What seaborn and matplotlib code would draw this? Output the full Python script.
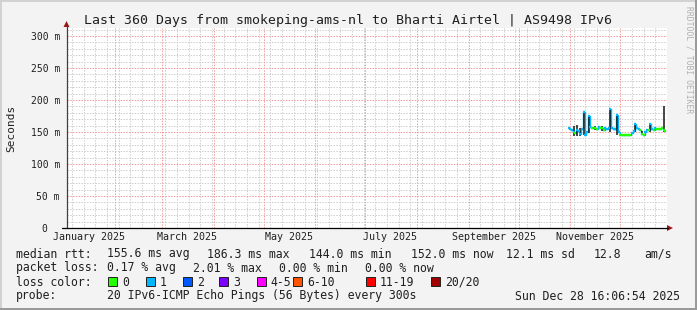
import numpy as np
import pandas as pd
import matplotlib
matplotlib.use("Agg")
import matplotlib.pyplot as plt
import matplotlib.dates as mdates
from matplotlib.patches import Rectangle, Polygon
from matplotlib.lines import Line2D
from matplotlib.ticker import FixedLocator, FixedFormatter
import seaborn as sns

# ---------------- data ----------------
dates = pd.date_range("2025-10-31", periods=59, freq="D")
median_ms = [156, 155, 153, 150, 148, 153, 152, 147, 155, 181,
             146, 150, 175, 158, 157, 156, 157, 155, 158, 156,
             157, 153, 156, 155, 156, 186, 156, 154, 155, 177,
             150, 145, 145, 145, 145, 145, 146, 146, 148, 152,
             162, 156, 154, 153, 147, 146, 150, 153, 153, 162,
             155, 153, 156, 155, 155, 154, 156, 153, 152]
loss_class = [1, 1, 1, 1, 0, 1, 1, 1, 1, 1,
              1, 1, 1, 1, 0, 1, 0, 0, 1, 0,
              0, 0, 1, 1, 1, 1, 1, 1, 1, 1,
              1, 0, 0, 0, 0, 0, 0, 0, 1, 1,
              1, 1, 1, 0, 0, 0, 1, 1, 0, 1,
              1, 0, 1, 0, 0, 0, 0, 0, 0]
smoke_idx = [3, 5, 7, 9, 12, 16, 20, 25, 29, 40, 44, 49, 57]
smoke_lo = [144, 143, 143, 145, 148, 153, 152, 150, 146, 150, 146, 150, 150]
smoke_hi = [160, 161, 156, 182, 176, 160, 160, 187, 178, 163, 152, 163, 190]

y_ticks = [0, 50, 100, 150, 200, 250, 300]
y_tick_labels = ["0  ", "50 m", "100 m", "150 m", "200 m", "250 m", "300 m"]
x_tick_dates = ["2025-01-16", "2025-03-16", "2025-05-16", "2025-07-16", "2025-09-16", "2025-11-16"]
x_tick_labels = ["January 2025", "March 2025", "May 2025", "July 2025", "September 2025", "November 2025"]

loss_labels = ["0", "1", "2", "3", "4-5", "6-10", "11-19", "20/20"]
loss_colors = ["#26ff00", "#00b8ff", "#0059ff", "#7e00ff", "#ff00ff", "#ff5500", "#ff0000", "#a10000"]

rtt_stats = ["155.6 ms avg", "186.3 ms max", "144.0 ms min", "152.0 ms now", "12.1 ms sd", "12.8", "am/s"]
loss_stats = ["0.17 % avg", "2.01 % max", "0.00 % min", "0.00 % now"]

title = "Last 360 Days from smokeping-ams-nl to Bharti Airtel | AS9498 IPv6"
probe_text = "20 IPv6-ICMP Echo Pings (56 Bytes) every 300s"
stamp_text = "Sun Dec 28 16:06:54 2025"

# ---------------- style ----------------
sns.set_style("white")
plt.rcParams["font.family"] = ["DejaVu Sans Mono", "DejaVu Sans"]
MONO = "DejaVu Sans Mono"
TXT = "#202020"

W, H = 697, 310
fig = plt.figure(figsize=(W / 100, H / 100), dpi=100)
fig.patch.set_facecolor("#f3f3f3")


def fx(x):
    return x / W


def fy(y):
    return 1 - y / H


# frame
fig.add_artist(Rectangle((0, fy(2)), 1, 2 / H, transform=fig.transFigure, color="#d2d2d2", lw=0))
fig.add_artist(Rectangle((0, 0), 2 / W, 1, transform=fig.transFigure, color="#d2d2d2", lw=0))
fig.add_artist(Rectangle((0, 0), 1, 2 / H, transform=fig.transFigure, color="#9a9a9a", lw=0))
fig.add_artist(Rectangle((fx(695), 0), 2 / W, 1, transform=fig.transFigure, color="#9a9a9a", lw=0))

ax = fig.add_axes([fx(66.5), fy(228), 600 / W, 200 / H])
ax.set_facecolor("white")
x0 = pd.Timestamp("2025-01-02 16:06:54")
x1 = pd.Timestamp("2025-12-28 16:06:54")
ax.set_xlim(x0, x1)
ax.set_ylim(0, 312.5)
for s in ax.spines.values():
    s.set_visible(False)

# grid (manual)
dot = (0, (1.4, 1.4))
for v in range(10, 320, 10):
    if v % 50:
        ax.axhline(v, color="#cdcdcd", lw=0.72, ls=dot, zorder=0)
for d in pd.date_range("2024-12-30", "2025-12-31", freq="W-MON"):
    if d.day != 1:
        ax.axvline(d, color="#cdcdcd", lw=0.72, ls=dot, zorder=0)
for v in range(50, 320, 50):
    ax.axhline(v, color="#f29a9a", lw=0.72, ls=dot, zorder=1)
for d in pd.date_range("2025-02-01", "2025-12-01", freq="MS"):
    ax.axvline(d, color="#f29a9a", lw=0.72, ls=dot, zorder=1)

# data
df = pd.DataFrame({"date": dates, "median": median_ms})
sns.lineplot(data=df, x="date", y="median", drawstyle="steps-mid",
             color=loss_colors[1], lw=1.0, ax=ax, zorder=3)
sd = [dates[i] for i in smoke_idx]
ax.vlines(sd, smoke_lo, smoke_hi, color="#151515", lw=1.1, zorder=4)
dn = mdates.date2num(dates)
ax.hlines(median_ms, dn - 0.55, dn + 0.55,
          colors=[loss_colors[c] for c in loss_class], lw=1.7, zorder=5)
ax.set_xlabel("")
ax.set_ylabel("")

# ticks
ax.yaxis.set_major_locator(FixedLocator(y_ticks))
ax.yaxis.set_major_formatter(FixedFormatter(y_tick_labels))
ax.xaxis.set_major_locator(FixedLocator(mdates.date2num(pd.to_datetime(x_tick_dates))))
ax.xaxis.set_major_formatter(FixedFormatter(x_tick_labels))
ax.tick_params(axis="y", length=0, pad=4.7, labelsize=7.0, labelcolor=TXT)
ax.tick_params(axis="x", length=0, pad=2.6, labelsize=7.2, labelcolor=TXT)
for lab in ax.get_xticklabels() + ax.get_yticklabels():
    lab.set_fontfamily(MONO)

# axes lines + arrows
fig.add_artist(Line2D([fx(66.5), fx(66.5)], [fy(228), fy(25)], transform=fig.transFigure,
                      color="#404040", lw=0.9))
fig.add_artist(Line2D([fx(62), fx(668)], [fy(228), fy(228)], transform=fig.transFigure,
                      color="#000000", lw=0.9))
fig.add_artist(Polygon([(fx(63.5), fy(27)), (fx(69.5), fy(27)), (fx(66.5), fy(21))],
                       closed=True, transform=fig.transFigure, color="#9e1a1a", lw=0))
fig.add_artist(Polygon([(fx(667), fy(225)), (fx(667), fy(231)), (fx(673), fy(228))],
                       closed=True, transform=fig.transFigure, color="#9e1a1a", lw=0))

# texts
fig.text(fx(348), fy(24), title, ha="center", va="baseline", fontsize=9.55, family=MONO, color=TXT)
fig.text(fx(11), fy(128), "Seconds", rotation=90, ha="center", va="center", fontsize=8.0, family=MONO,
         color=TXT)
fig.text(fx(688.5), fy(60), "RRDTOOL / TOBI OETIKER", rotation=270, ha="center", va="center",
         fontsize=5.8, family=MONO, color="#b0b0b0")

FS = 8.3
fig.text(fx(16), fy(257.5), "median rtt:", fontsize=FS, family=MONO, va="baseline", color=TXT)
for t, x in zip(rtt_stats, [107, 207, 309, 411.5, 506.5, 594, 644]):
    fig.text(fx(x), fy(257.5), t, fontsize=FS, family=MONO, va="baseline", color=TXT)

fig.text(fx(16), fy(271.5), "packet loss:", fontsize=FS, family=MONO, va="baseline", color=TXT)
for t, x in zip(loss_stats, [107, 193, 279, 365]):
    fig.text(fx(x), fy(271.5), t, fontsize=FS, family=MONO, va="baseline", color=TXT)

fig.text(fx(16), fy(285.5), "loss color:", fontsize=FS, family=MONO, va="baseline", color=TXT)
for lab, col, bx, tx in zip(loss_labels, loss_colors,
                            [108, 146, 183, 219, 257, 293, 366, 431],
                            [122, 160, 197, 233, 270, 307, 380, 445]):
    fig.add_artist(Rectangle((fx(bx), fy(285.5)), 8.5 / W, 8.5 / H, transform=fig.transFigure,
                             facecolor=col, edgecolor=TXT, lw=0.7))
    fig.text(fx(tx), fy(285.5), lab, fontsize=FS, family=MONO, va="baseline", color=TXT)

fig.text(fx(16), fy(299.5), "probe:", fontsize=FS, family=MONO, va="baseline", color=TXT)
fig.text(fx(107), fy(299.5), probe_text, fontsize=FS, family=MONO, va="baseline", color=TXT)
fig.text(fx(680), fy(299.5), stamp_text, fontsize=FS, family=MONO, va="baseline", ha="right",
         color=TXT)

fig.savefig("out.png", dpi=100, facecolor=fig.get_facecolor())
